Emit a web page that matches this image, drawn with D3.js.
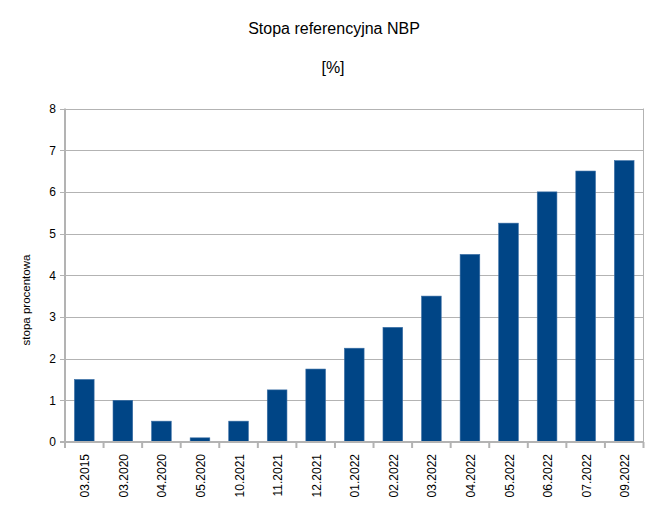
<!DOCTYPE html>
<html><head><meta charset="utf-8">
<script src="https://cdn.jsdelivr.net/npm/d3@7"></script>
<style>body{margin:0;background:#fff}svg{display:block}</style>
</head><body>
<svg id="c" width="670" height="523"></svg>
<script>
const categories = ["03.2015","03.2020","04.2020","05.2020","10.2021","11.2021","12.2021","01.2022","02.2022","03.2022","04.2022","05.2022","06.2022","07.2022","09.2022"];
const rates = [1.5,1.0,0.5,0.1,0.5,1.25,1.75,2.25,2.75,3.5,4.5,5.25,6.0,6.5,6.75];
const yTicks = [0,1,2,3,4,5,6,7,8];
const title = "Stopa referencyjna NBP";
const subtitle = "[%]";
const yLabel = "stopa procentowa";

const svg = d3.select("#c");
const font = "Liberation Sans, Arial, sans-serif";
const L = 65, R = 643.5, T = 108.5, B = 442;
const x = d3.scaleBand().domain(categories).range([L, R]).paddingInner(0.49).paddingOuter(0.245);
const y = d3.scaleLinear().domain([0, 8]).range([B, T]);
const grid = "#b3b3b3";

// gridlines
svg.append("g").selectAll("line").data(yTicks).join("line")
  .attr("x1", L - 5).attr("x2", R).attr("y1", d => Math.round(y(d)) + 0.5).attr("y2", d => Math.round(y(d)) + 0.5)
  .attr("stroke", grid).attr("stroke-width", 1);
// right border
svg.append("line").attr("x1", R).attr("x2", R).attr("y1", T).attr("y2", B).attr("stroke", grid);

// bars
svg.append("g").selectAll("rect").data(rates).join("rect")
  .attr("x", (d, i) => x(categories[i]))
  .attr("width", x.bandwidth())
  .attr("y", d => y(d))
  .attr("height", d => B - y(d))
  .attr("fill", "#004586")
  .attr("stroke", "#3a6ea5").attr("stroke-width", 0.6);

// y axis
const yAxis = d3.axisLeft(y).tickValues(yTicks).tickSize(5).tickPadding(4);
const gy = svg.append("g").attr("transform", `translate(${L},0)`).call(yAxis);
gy.select(".domain").attr("stroke", grid).attr("stroke-width", 2).attr("d", `M0,${T}V${B + 5}`);
gy.selectAll(".tick line").remove();
gy.selectAll(".tick text").attr("font-family", font).attr("font-size", 12).attr("fill", "#000");

// x axis
const band = (R - L) / categories.length;
const xAxis = d3.axisBottom(x).tickSize(0).tickPadding(0);
const gx = svg.append("g").attr("transform", `translate(0,${B})`).call(xAxis);
gx.select(".domain").attr("stroke", grid).attr("stroke-width", 2).attr("d", `M${L - 5},0H${R}`);
gx.selectAll(".tick text")
  .attr("font-family", font).attr("font-size", 12).attr("fill", "#000")
  .attr("transform", "translate(5,12) rotate(-90)")
  .attr("text-anchor", "end").attr("dy", 0).attr("x", 0).attr("y", 0);
svg.append("g").selectAll("line").data(d3.range(categories.length + 1)).join("line")
  .attr("x1", i => L + i * band).attr("x2", i => L + i * band)
  .attr("y1", B).attr("y2", B + 6).attr("stroke", grid).attr("stroke-width", 2);

// titles
svg.append("text").attr("x", 334).attr("y", 34).attr("text-anchor", "middle")
  .attr("font-family", font).attr("font-size", 16).text(title);
svg.append("text").attr("x", 333).attr("y", 73).attr("text-anchor", "middle")
  .attr("font-family", font).attr("font-size", 16).text(subtitle);
svg.append("text").attr("transform", "translate(30,300) rotate(-90)").attr("text-anchor", "middle")
  .attr("font-family", font).attr("font-size", 11.5).text(yLabel);
</script>
</body></html>
